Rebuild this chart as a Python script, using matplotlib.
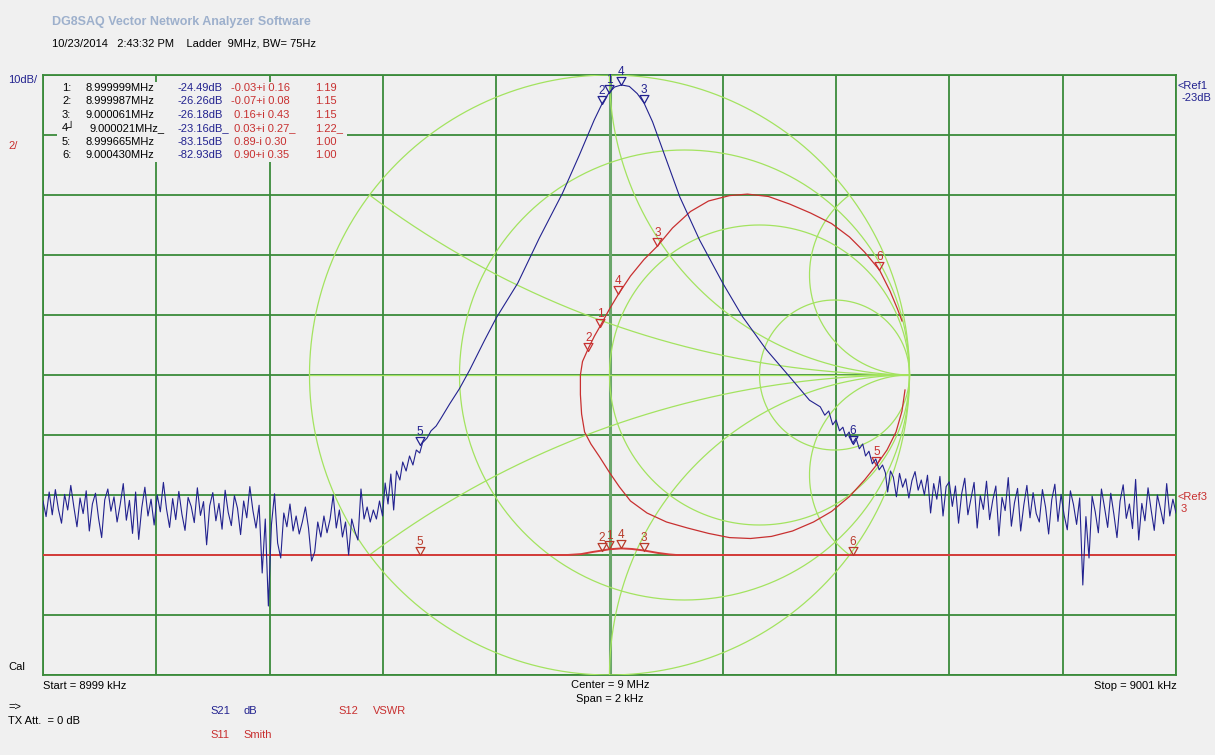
import numpy as np
import matplotlib
matplotlib.use("Agg")
import matplotlib.pyplot as plt
from matplotlib.path import Path
from matplotlib.patches import Rectangle

plt.rcParams['font.family'] = ['Liberation Sans', 'DejaVu Sans']
plt.rcParams['font.size'] = 8

# ---- sweep / scale settings ----
f_start, f_stop = 8999.0, 9001.0      # kHz
db_top, db_bottom = -21.5, -121.5     # 10 dB/div, Ref1 = -23 dB
vswr_top, vswr_bottom = 17.0, -3.0    # 2/div, Ref3 = 3

# S21 (dB) - noise floor below the passband, uniform sweep points
noise_left_db = [
    -92.5, -95.1, -91.0, -94.8, -90.6, -93.9, -96.2, -91.4, -94.0, -89.9, -93.5,
    -96.8, -92.0, -94.6, -90.8, -97.5, -93.0, -91.2, -95.4, -98.6, -92.3,
    -90.5, -94.2, -91.8, -96.0, -93.1, -89.6, -95.7, -92.4, -97.9, -91.0,
    -98.9, -93.6, -90.2, -95.0, -92.2, -96.5, -91.5, -94.3, -89.4, -93.8,
    -96.9, -92.1, -95.6, -90.9, -94.7, -97.4, -91.9, -93.4, -96.1, -90.3,
    -94.9, -92.6, -99.8, -93.3, -91.1, -95.8, -92.9, -97.2, -90.7, -94.4,
    -96.6, -91.6, -93.7, -98.1, -92.5, -95.3, -90.1, -94.1, -97.0, -93.2,
    -104.5, -95.5, -110.0, -96.4, -91.3,
    -99.5, -102.0, -94.5, -96.8, -93.0, -97.5, -95.0, -98.0, -96.0, -93.5,
    -97.0, -102.5, -101.0, -96.0, -98.5, -95.0, -97.8, -95.5, -91.5, -97.0,
    -94.0, -98.5, -96.0, -101.5, -95.5, -97.5, -99.0, -90.5, -95.5, -93.5,
    -96.0, -94.0, -95.5, -92.5,
]
noise_left_khz = (8999.0, 8999.594)

# S21 passband (offset from 9 MHz in Hz, dB)
slope_hz = [-400.7, -396, -391, -386, -381, -376, -370, -365, -359, -353, -347,
            -341, -335, -330, -322, -315, -306, -298, -282, -265, -247, -221,
            -200, -162, -124, -83, -53, -27, -13, -1, 9, 21, 35, 49, 61, 76,
            94, 124, 159, 200, 235, 277, 318, 353, 372, 380, 387, 394, 400,
            406, 412, 417, 423, 429, 435, 441, 447, 452, 458, 464, 470, 476,
            482, 487, 491, 496]
slope_db = [-95.0, -89.5, -93.0, -88.0, -94.0, -87.5, -89.0, -86.0, -87.5, -85.0,
            -86.5, -84.0, -84.5, -82.8, -82.0, -80.8, -80.0, -78.8, -76.3, -73.8,
            -70.7, -65.8, -62.0, -56.2, -48.7, -41.2, -34.8, -29.0, -26.26, -24.49,
            -23.5, -23.16, -23.4, -24.6, -26.18, -29.3, -34.0, -41.8, -49.0, -56.2,
            -61.8, -67.3, -71.8, -75.7, -76.8, -78.2, -77.5, -79.8, -79.0, -80.8,
            -80.2, -81.8, -81.0, -82.9, -82.0, -83.8, -83.0, -85.0, -84.2, -86.3,
            -85.5, -87.3, -86.5, -87.8, -91.0, -87.5]

noise_right_db = [
    -88.5, -91.8, -87.9, -90.2, -88.8, -92.0, -89.1, -87.6, -90.7, -89.0,
    -91.5, -88.2, -94.5, -89.6, -92.2, -88.4, -95.0, -90.1, -89.3, -93.4,
    -90.0, -96.2, -91.3, -88.7, -94.8, -92.1, -89.4, -97.0, -91.6, -93.9,
    -89.2, -95.6, -92.4, -90.0, -98.3, -91.9, -94.1, -88.6, -96.7, -92.8,
    -90.4, -97.5, -93.2, -89.9, -95.3, -91.1, -94.6, -96.0, -90.6, -93.5,
    -98.0, -92.3, -89.7, -95.9, -91.4, -94.9, -97.3, -90.8, -93.1, -96.4,
    -92.0, -106.5, -95.1, -102.0, -91.7, -94.3, -97.8, -90.5, -93.6, -96.9,
    -91.2, -94.7, -98.6, -92.5, -89.8, -95.4, -93.0, -97.1, -88.9, -99.0,
    -92.9, -95.8, -90.3, -94.0, -97.4, -91.5, -93.8, -96.3, -89.6, -95.0,
    -92.2, -94.5,
]
noise_right_khz = (9000.501, 9001.0)

# S11 reflection coefficient along the sweep
s11_re = [0.985, 0.975, 0.955, 0.925, 0.89, 0.85, 0.80, 0.74, 0.68, 0.61, 0.54,
          0.47, 0.40, 0.33, 0.26, 0.19, 0.125, 0.07, 0.033, 0.0, -0.033, -0.062,
          -0.083, -0.093, -0.097, -0.097, -0.09, -0.07, -0.05, -0.03, 0.0, 0.03,
          0.07, 0.115, 0.16, 0.21, 0.27, 0.33, 0.40, 0.46, 0.53, 0.60, 0.67,
          0.74, 0.80, 0.85, 0.90, 0.935, 0.96, 0.975]
s11_im = [-0.05, -0.12, -0.19, -0.25, -0.30, -0.35, -0.405, -0.455, -0.49, -0.52,
          -0.538, -0.545, -0.542, -0.528, -0.51, -0.49, -0.46, -0.42, -0.373,
          -0.325, -0.273, -0.23, -0.19, -0.13, -0.065, 0.0, 0.045, 0.09, 0.13,
          0.165, 0.22, 0.27, 0.33, 0.385, 0.43, 0.49, 0.545, 0.58, 0.598, 0.603,
          0.595, 0.57, 0.54, 0.505, 0.46, 0.41, 0.35, 0.28, 0.22, 0.18]

# S12 VSWR (offset Hz)
vswr_hz = [-1000, -74, -50, -30, -13, -1, 21, 40, 61, 85, 105, 118, 1000]
vswr_val = [1.0, 1.0, 1.03, 1.10, 1.15, 1.19, 1.22, 1.20, 1.15, 1.07, 1.02, 1.0, 1.0]

# marker table
marker_no = ['1', '2', '3', '4', '5', '6']
marker_mhz = [8.999999, 8.999987, 9.000061, 9.000021, 8.999665, 9.000430]
marker_db = [-24.49, -26.26, -26.18, -23.16, -83.15, -82.93]
marker_re = [-0.03, -0.07, 0.16, 0.03, 0.89, 0.90]
marker_im = [0.16, 0.08, 0.43, 0.27, -0.30, 0.35]
marker_vswr = [1.19, 1.15, 1.15, 1.22, 1.00, 1.00]

smith_r = [1/3, 1, 3]
smith_x = [1/3, 1, 3]

# ---- colours ----
BG = '#f0f0f0'
GRID = '#3b8b3b'
SMITH = '#a3e35f'
BLUE = '#22228f'
RED = '#c83030'

W, H = 1215, 755
fig = plt.figure(figsize=(W / 100, H / 100), dpi=100, facecolor=BG)
rect = [43 / W, 1 - 675 / H, 1133 / W, 600 / H]

# grid
ax = fig.add_axes(rect, facecolor=BG)
ax.set_xlim(f_start, f_stop)
ax.set_ylim(db_bottom, db_top)
ax.set_xticks(np.linspace(f_start, f_stop, 11))
ax.set_yticks(np.linspace(db_bottom, db_top, 11))
ax.tick_params(length=0, labelbottom=False, labelleft=False)
ax.grid(True, color=GRID, lw=1.3)
for s in ax.spines.values():
    s.set_color(GRID)
    s.set_linewidth(1.3)
ax.axvline((f_start + f_stop) / 2, color='#6aa66a', lw=2.2)

# smith chart
sm = fig.add_axes(rect, facecolor='none')
half_w = 1133 / 600
sm.set_xlim(-half_w, half_w)
sm.set_ylim(-1, 1)
sm.axis('off')
t = np.linspace(0, 2 * np.pi, 721)
sm.plot(np.cos(t), np.sin(t), color=SMITH, lw=0.9)
sm.plot([-1, 1], [0, 0], color=SMITH, lw=0.9)
for r in smith_r:
    c, rad = r / (1 + r), 1 / (1 + r)
    sm.plot(c + rad * np.cos(t), rad * np.sin(t), color=SMITH, lw=0.9)
for x in smith_x:
    gx, gy = (x * x - 1) / (x * x + 1), 2 * x / (x * x + 1)
    a0 = np.arctan2(gy - 1 / x, gx - 1) % (2 * np.pi)
    a = np.linspace(a0, 1.5 * np.pi, 300)
    for sgn in (1, -1):
        sm.plot(1 + np.cos(a) / x, sgn * (1 / x + np.sin(a) / x), color=SMITH, lw=0.9)

tri = Path([(-1, 1.8), (1, 1.8), (0, 0), (-1, 1.8)],
           [Path.MOVETO, Path.LINETO, Path.LINETO, Path.CLOSEPOLY])


def mark(a, x, y, label, color):
    a.plot([x], [y], marker=tri, ms=11.5, mfc='none', mec=color, mew=0.9,
           ls='none', clip_on=False)
    a.annotate(label, (x, y), xytext=(0, 5), textcoords='offset points',
               ha='center', va='bottom', color=color, fontsize=8.5)


sm.plot(s11_re, s11_im, color=RED, lw=0.9)
for n, re, im in zip(marker_no, marker_re, marker_im):
    mark(sm, re, im, n, RED)

# VSWR
vax = fig.add_axes(rect, facecolor='none')
vax.set_xlim(f_start, f_stop)
vax.set_ylim(vswr_bottom, vswr_top)
vax.axis('off')
vax.plot(9000 + np.array(vswr_hz) / 1000, vswr_val, color='#d63c3c', lw=1.4)
for n, f, v in zip(marker_no, marker_mhz, marker_vswr):
    mark(vax, f * 1000, v, n, '#b83a2a')

# S21
s21 = fig.add_axes(rect, facecolor='none')
s21.set_xlim(f_start, f_stop)
s21.set_ylim(db_bottom, db_top)
s21.axis('off')
f_left = np.linspace(*noise_left_khz, len(noise_left_db))
f_right = np.linspace(*noise_right_khz, len(noise_right_db))
f_all = np.concatenate([f_left, 9000 + np.array(slope_hz) / 1000, f_right])
db_all = np.concatenate([noise_left_db, slope_db, noise_right_db])
s21.plot(f_all, db_all, color=BLUE, lw=0.8)
for n, f, d in zip(marker_no, marker_mhz, marker_db):
    mark(s21, f * 1000, d, n, BLUE)


# ---- texts ----
def put(x, y, s, color='black', **kw):
    kw.setdefault('va', 'center')
    fig.text(x / W, 1 - y / H, s, color=color, **kw)


put(52, 22, 'DG8SAQ Vector Network Analyzer Software', '#9db0cc',
    fontsize=9, fontweight='bold')
put(52, 44, '10/23/2014   2:43:32 PM    Ladder  9MHz, BW= 75Hz')
put(8, 80, '10dB/', BLUE)
put(8, 146, '2/', RED)
put(8, 667, 'Cal')
put(43, 686, 'Start = 8999 kHz')
put(610, 685, 'Center = 9 MHz', ha='center')
put(610, 699, 'Span = 2 kHz', ha='center')
put(1177, 686, 'Stop = 9001 kHz', ha='right')
put(8, 707, '=>')
put(8, 721, 'TX Att.  = 0 dB')
put(210, 711, 'S21', BLUE)
put(243, 711, 'dB', BLUE)
put(210, 735, 'S11', RED)
put(243, 735, 'Smith', RED)
put(338, 711, 'S12', RED)
put(373, 711, 'VSWR', RED)
put(1178, 86, '<Ref1', BLUE)
put(1181, 98, '-23dB', BLUE)
put(1178, 497, '<Ref3', RED)
put(1181, 509, '3', RED)

# marker table sits on an opaque block that hides the grid
fig.add_artist(Rectangle((57 / W, 1 - 162 / H), 290 / W, 80 / H,
                         transform=fig.transFigure, facecolor=BG,
                         edgecolor='none', zorder=2.5))
for i, n in enumerate(marker_no):
    y = 88 + 13.4 * i
    tail = '_' if n == '4' else ''
    lab = n + ('\u2518' if n == '4' else ':')
    re, im = marker_re[i], marker_im[i]
    cplx = f"{'' if re < 0 else ' '}{re:.2f}{'+' if im >= 0 else '-'}i {abs(im):.2f}"
    put(62, y, lab)
    put(89 if n == '4' else 86, y, f'{marker_mhz[i]:.6f}MHz' + tail)
    put(178, y, f'{marker_db[i]:.2f}dB' + tail, BLUE)
    put(231, y, cplx + tail, RED)
    put(315, y, f'{marker_vswr[i]:.2f}' + tail, RED)

fig.savefig('out.png', dpi=100, facecolor=BG)
